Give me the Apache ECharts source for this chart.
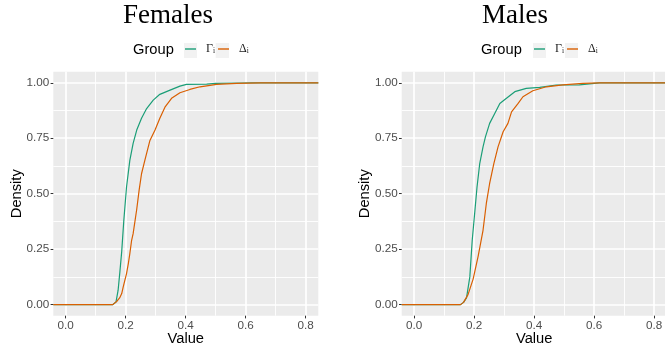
<!DOCTYPE html>
<html>
<head>
<meta charset="utf-8">
<script src="https://cdn.jsdelivr.net/npm/echarts@6/dist/echarts.min.js"></script>
<style>html,body{margin:0;padding:0;background:#fff}#c{width:665px;height:354px}</style>
</head>
<body>
<div id="c"></div>
<script>
// ---- data (ECDF curves) ----
const panelTitles = ['Females', 'Males'];
const seriesNames = ['Γi', 'Δi'];
const xTicks = [0, 0.2, 0.4, 0.6, 0.8];
const xTickLabels = ['0.0', '0.2', '0.4', '0.6', '0.8'];
const xMinor = [0.1, 0.3, 0.5, 0.7];
const yTicks = [0, 0.25, 0.5, 0.75, 1];
const yTickLabels = ['0.00', '0.25', '0.50', '0.75', '1.00'];
const yMinor = [0.125, 0.375, 0.625, 0.875];
const xMin = -0.041, xMax = 0.842, yMin = -0.05, yMax = 1.05;

const femGammaX = [-0.041, 0.157, 0.168, 0.175, 0.181, 0.187, 0.194, 0.203, 0.214, 0.225, 0.237, 0.253, 0.27, 0.292, 0.314, 0.348, 0.381, 0.403, 0.47, 0.5, 0.58, 0.62, 0.842];
const femGammaY = [0, 0, 0.012, 0.065, 0.15, 0.24, 0.38, 0.53, 0.65, 0.727, 0.787, 0.84, 0.884, 0.922, 0.948, 0.967, 0.985, 0.993, 0.994, 0.997, 0.999, 1, 1];
const femDeltaX = [-0.041, 0.157, 0.17, 0.18, 0.187, 0.192, 0.203, 0.209, 0.214, 0.22, 0.225, 0.237, 0.245, 0.253, 0.264, 0.281, 0.298, 0.314, 0.331, 0.353, 0.381, 0.414, 0.448, 0.503, 0.57, 0.65, 0.842];
const femDeltaY = [0, 0, 0.014, 0.03, 0.05, 0.08, 0.14, 0.185, 0.23, 0.29, 0.32, 0.43, 0.516, 0.59, 0.65, 0.74, 0.787, 0.84, 0.89, 0.93, 0.955, 0.97, 0.982, 0.993, 0.997, 1, 1];
const maleGammaX = [-0.041, 0.155, 0.165, 0.175, 0.186, 0.194, 0.203, 0.21, 0.219, 0.23, 0.238, 0.252, 0.269, 0.286, 0.308, 0.336, 0.374, 0.419, 0.474, 0.551, 0.618, 0.842];
const maleGammaY = [0, 0, 0.01, 0.03, 0.125, 0.29, 0.425, 0.53, 0.636, 0.711, 0.756, 0.817, 0.862, 0.907, 0.93, 0.96, 0.975, 0.979, 0.99, 0.991, 1, 1];
const maleDeltaX = [-0.041, 0.155, 0.165, 0.18, 0.197, 0.214, 0.23, 0.241, 0.252, 0.266, 0.28, 0.297, 0.313, 0.325, 0.347, 0.363, 0.396, 0.441, 0.496, 0.562, 0.618, 0.842];
const maleDeltaY = [0, 0, 0.01, 0.045, 0.115, 0.22, 0.335, 0.456, 0.546, 0.636, 0.711, 0.779, 0.817, 0.869, 0.907, 0.937, 0.964, 0.982, 0.991, 0.997, 1, 1];

const colors = ['#1B9E77', '#D95F02'];
const curves = [[[femGammaX, femGammaY], [femDeltaX, femDeltaY]], [[maleGammaX, maleGammaY], [maleDeltaX, maleDeltaY]]];

// ---- layout ----
const grids = [
  {left: 53.3, top: 71.7, width: 265, height: 244},
  {left: 401.7, top: 71.7, width: 265, height: 244}
];
const sans = 'Liberation Sans, Arial, sans-serif';
const serif = 'Liberation Serif, Times New Roman, serif';

function pair(xs, ys) { return xs.map((x, i) => [x, ys[i]]); }

const xAxes = [], yAxes = [], series = [];
grids.forEach((g, gi) => {
  xAxes.push({
    type: 'value', gridIndex: gi, min: xMin, max: xMax, position: 'bottom',
    axisLine: {show: false, onZero: false},
    axisTick: {show: true, length: 2.7, customValues: xTicks, lineStyle: {color: '#333333', width: 1}},
    axisLabel: {customValues: xTicks, formatter: v => xTickLabels[xTicks.findIndex(t => Math.abs(t - v) < 1e-9)],
      color: '#4D4D4D', fontSize: 11.7, fontFamily: sans, margin: 4},
    splitLine: {show: true, lineStyle: {color: '#FFFFFF', width: 1.7}},
    name: 'Value', nameLocation: 'middle', nameGap: 16, nameMoveOverlap: false,
    nameTextStyle: {color: '#000', fontSize: 14.7, fontFamily: sans}
  });
  xAxes.push({
    type: 'value', gridIndex: gi, min: xMin, max: xMax, position: 'top',
    axisLine: {show: false, onZero: false}, axisTick: {show: false, customValues: xMinor}, axisLabel: {show: false, customValues: xMinor},
    splitLine: {show: true, lineStyle: {color: '#FFFFFF', width: 0.9}}
  });
  yAxes.push({
    type: 'value', gridIndex: gi, min: yMin, max: yMax, position: 'left',
    axisLine: {show: false, onZero: false},
    axisTick: {show: true, length: 2.7, customValues: yTicks, lineStyle: {color: '#333333', width: 1}},
    axisLabel: {customValues: yTicks, formatter: v => yTickLabels[yTicks.findIndex(t => Math.abs(t - v) < 1e-9)],
      color: '#4D4D4D', fontSize: 11.7, fontFamily: sans, margin: 4},
    splitLine: {show: true, lineStyle: {color: '#FFFFFF', width: 1.7}},
    name: 'Density', nameLocation: 'middle', nameGap: 29, nameMoveOverlap: false,
    nameTextStyle: {color: '#000', fontSize: 14.7, fontFamily: sans}
  });
  yAxes.push({
    type: 'value', gridIndex: gi, min: yMin, max: yMax, position: 'right',
    axisLine: {show: false, onZero: false}, axisTick: {show: false, customValues: yMinor}, axisLabel: {show: false, customValues: yMinor},
    splitLine: {show: true, lineStyle: {color: '#FFFFFF', width: 0.9}}
  });
  curves[gi].forEach((c, si) => {
    series.push({
      type: 'line', name: seriesNames[si], xAxisIndex: gi * 2, yAxisIndex: gi * 2,
      data: pair(c[0], c[1]), showSymbol: false, symbol: 'none', smooth: false,
      color: colors[si], itemStyle: {color: colors[si]},
      lineStyle: {color: colors[si], width: 1.2}, z: 3
    });
  });
});

const legendText = {
  rich: {
    m: {fontFamily: serif, fontSize: 12, color: '#1A1A1A', padding: [0, 0, 0, 5]},
    s: {fontFamily: serif, fontSize: 7.5, color: '#1A1A1A', verticalAlign: 'bottom', padding: [5, 0, 0, 0]}
  }
};
function legendFmt(n) { return '{m|' + n.charAt(0) + '}{s|' + n.slice(1) + '}'; }
const legendLefts = [185, 534];
const legends = legendLefts.map(l => ({
  left: l, top: 43, padding: 0, orient: 'horizontal', itemWidth: 11, itemHeight: 1.4, itemGap: 3,
  icon: 'rect', data: seriesNames, formatter: legendFmt, textStyle: legendText, selectedMode: false
}));

const keyBoxes = [[184, 43, 13, 15], [215.7, 43, 13.3, 15], [533, 43, 13, 15], [565, 43, 13, 15]];

const chart = echarts.init(document.getElementById('c'), null, {renderer: 'canvas'});
chart.setOption({
  animation: false,
  backgroundColor: '#FFFFFF',
  title: [
    {text: panelTitles[0], left: 118, top: -3, textStyle: {fontFamily: serif, fontSize: 27, fontWeight: 'normal', color: '#000'}},
    {text: panelTitles[1], left: 477, top: -3, textStyle: {fontFamily: serif, fontSize: 27, fontWeight: 'normal', color: '#000'}},
    {text: 'Group', left: 133, top: 42, padding: 0, textStyle: {fontFamily: sans, fontSize: 14.7, fontWeight: 'normal', color: '#000'}},
    {text: 'Group', left: 481, top: 42, padding: 0, textStyle: {fontFamily: sans, fontSize: 14.7, fontWeight: 'normal', color: '#000'}}
  ],
  legend: legends,
  graphic: keyBoxes.map(b => ({type: 'rect', shape: {x: b[0], y: b[1], width: b[2], height: b[3]}, style: {fill: '#F2F2F2'}, z: -1})),
  grid: grids.map(g => Object.assign({show: true, backgroundColor: '#EBEBEB', borderWidth: 0, outerBoundsMode: 'none', containLabel: false}, g)),
  xAxis: xAxes,
  yAxis: yAxes,
  series: series
});
</script>
</body>
</html>
